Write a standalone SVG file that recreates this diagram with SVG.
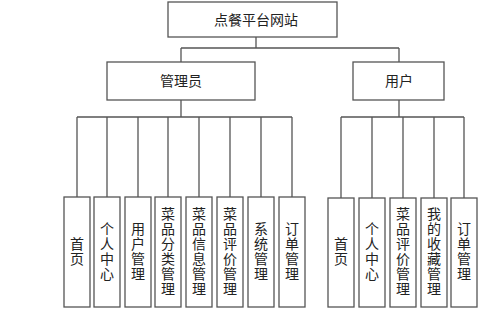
<svg xmlns="http://www.w3.org/2000/svg" width="499" height="311" viewBox="0 0 499 311">
<style>
.box{fill:#fff;stroke:#555;stroke-width:1.3}
.ln{fill:none;stroke:#555;stroke-width:1.3}
text{font-family:"Noto Sans CJK SC","Noto Sans CJK JP",sans-serif;font-size:14px;fill:#222;text-anchor:middle}
.v{writing-mode:vertical-rl;letter-spacing:1px}
</style>
<rect width="499" height="311" fill="#fff"/>
<g id="connectors">
<path class="ln" d="M256,37V48M181,48H399M181,48V62M399,48V62"/>
<path class="ln" d="M181,100V117M77,117H292M77,117V197M107,117V197M138,117V197M168,117V197M199,117V197M230,117V197M261,117V197M292,117V197"/>
<path class="ln" d="M399,100V117M341,117H464M341,117V198M372,117V198M403,117V198M434,117V198M464,117V198"/>
</g>
<g id="root"><rect class="box" x="168" y="2" width="169" height="35"/><text x="256" y="25">点餐平台网站</text></g>
<g id="admin"><rect class="box" x="107" y="62" width="148" height="38"/><text x="181" y="86">管理员</text></g>
<g id="user"><rect class="box" x="353" y="62" width="91" height="38"/><text x="399" y="86">用户</text></g>
<g id="a1"><rect class="box" x="64" y="197" width="26" height="110"/><text class="v" x="77" y="252">首页</text></g>
<g id="a2"><rect class="box" x="94" y="197" width="26" height="110"/><text class="v" x="107" y="252">个人中心</text></g>
<g id="a3"><rect class="box" x="125" y="197" width="26" height="110"/><text class="v" x="138" y="252">用户管理</text></g>
<g id="a4"><rect class="box" x="155" y="197" width="26" height="110"/><text class="v" x="168" y="252">菜品分类管理</text></g>
<g id="a5"><rect class="box" x="186" y="197" width="26" height="110"/><text class="v" x="199" y="252">菜品信息管理</text></g>
<g id="a6"><rect class="box" x="217" y="197" width="26" height="110"/><text class="v" x="230" y="252">菜品评价管理</text></g>
<g id="a7"><rect class="box" x="248" y="197" width="26" height="110"/><text class="v" x="261" y="252">系统管理</text></g>
<g id="a8"><rect class="box" x="279" y="197" width="26" height="110"/><text class="v" x="292" y="252">订单管理</text></g>
<g id="u1"><rect class="box" x="328" y="198" width="26" height="109"/><text class="v" x="341" y="252">首页</text></g>
<g id="u2"><rect class="box" x="359" y="198" width="26" height="109"/><text class="v" x="372" y="252">个人中心</text></g>
<g id="u3"><rect class="box" x="390" y="198" width="26" height="109"/><text class="v" x="403" y="252">菜品评价管理</text></g>
<g id="u4"><rect class="box" x="421" y="198" width="26" height="109"/><text class="v" x="434" y="252">我的收藏管理</text></g>
<g id="u5"><rect class="box" x="451" y="198" width="26" height="109"/><text class="v" x="464" y="252">订单管理</text></g>
</svg>
